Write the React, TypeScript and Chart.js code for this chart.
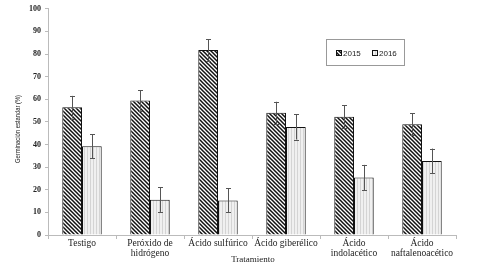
import React, { useEffect, useRef } from "react";
import { Chart, registerables } from "chart.js";

Chart.register(...registerables);

const categories: (string | string[])[] = [
  "Testigo",
  ["Peróxido de", "hidrógeno"],
  "Ácido sulfúrico",
  "Ácido giberélico",
  ["Ácido", "indolacético"],
  ["Ácido", "naftalenoacético"],
];
const values2015 = [56.5, 59.5, 81.8, 54.0, 52.3, 49.0];
const values2016 = [39.2, 15.6, 15.3, 47.8, 25.4, 32.7];
const err2015 = [5.0, 4.6, 4.7, 4.9, 5.0, 4.8];
const err2016 = [5.3, 5.4, 5.3, 5.6, 5.6, 5.5];
const seriesLabels = ["2015", "2016"];
const yTicks = { min: 0, max: 100, step: 10 };
const xTitle = "Tratamiento";
const yTitle = "Germinación estandar (%)";

const SERIF = "'Liberation Serif', 'Times New Roman', serif";

function makeHatch(): CanvasPattern | string {
  const c = document.createElement("canvas");
  c.width = 4;
  c.height = 4;
  const g = c.getContext("2d");
  if (!g) return "#333";
  g.fillStyle = "#ffffff";
  g.fillRect(0, 0, 4, 4);
  g.strokeStyle = "#111111";
  g.lineWidth = 1.5;
  g.beginPath();
  g.moveTo(-1, -1);
  g.lineTo(5, 5);
  g.moveTo(-1, 3);
  g.lineTo(1, 5);
  g.moveTo(3, -1);
  g.lineTo(5, 1);
  g.stroke();
  return g.createPattern(c, "repeat") || "#333";
}

function makeVert(): CanvasPattern | string {
  const c = document.createElement("canvas");
  c.width = 3;
  c.height = 3;
  const g = c.getContext("2d");
  if (!g) return "#eee";
  g.fillStyle = "#f0f0f0";
  g.fillRect(0, 0, 3, 3);
  g.fillStyle = "#d4d4d4";
  g.fillRect(0, 0, 1, 3);
  return g.createPattern(c, "repeat") || "#eee";
}

export default function App() {
  const ref = useRef<HTMLCanvasElement | null>(null);

  useEffect(() => {
    if (!ref.current) return;
    const hatch = makeHatch();
    const vert = makeVert();
    const errs = [err2015, err2016];

    const errorBars = {
      id: "errorBars",
      afterDatasetsDraw(chart: any) {
        const ctx = chart.ctx;
        const y = chart.scales.y;
        ctx.save();
        ctx.strokeStyle = "#555";
        ctx.lineWidth = 1;
        chart.data.datasets.forEach((ds: any, di: number) => {
          const meta = chart.getDatasetMeta(di);
          meta.data.forEach((bar: any, i: number) => {
            const v = ds.data[i];
            const e = errs[di][i];
            const x = Math.round(bar.x) + 0.5;
            const yt = y.getPixelForValue(v + e);
            const yb = y.getPixelForValue(v - e);
            ctx.beginPath();
            ctx.moveTo(x, yt);
            ctx.lineTo(x, yb);
            ctx.moveTo(x - 2.5, Math.round(yt) + 0.5);
            ctx.lineTo(x + 2.5, Math.round(yt) + 0.5);
            ctx.moveTo(x - 2.5, Math.round(yb) + 0.5);
            ctx.lineTo(x + 2.5, Math.round(yb) + 0.5);
            ctx.stroke();
          });
        });
        ctx.restore();
      },
    };

    const extras = {
      id: "extras",
      afterDraw(chart: any) {
        const ctx = chart.ctx;
        ctx.save();
        // legend box
        ctx.strokeStyle = "#999";
        ctx.lineWidth = 1;
        ctx.strokeRect(326.5, 39.5, 78, 26);
        const fills = [hatch, vert];
        const xs = [336, 372];
        ctx.font = "8px 'Liberation Sans', Arial, sans-serif";
        ctx.textBaseline = "middle";
        ctx.textAlign = "left";
        seriesLabels.forEach((lab, i) => {
          ctx.fillStyle = fills[i] as any;
          ctx.fillRect(xs[i], 50, 6, 6);
          ctx.strokeStyle = "#111";
          ctx.strokeRect(xs[i] + 0.5, 50.5, 5, 5);
          ctx.fillStyle = "#222";
          ctx.fillText(lab, xs[i] + 7, 53.5);
        });
        // x title
        ctx.fillStyle = "#222";
        ctx.textAlign = "center";
        ctx.font = `9px ${SERIF}`;
        const xs2 = chart.scales.x;
        ctx.fillText(xTitle, (xs2.left + xs2.right) / 2 + 1, 259.5);
        // y title
        ctx.translate(17.5, 129);
        ctx.rotate(-Math.PI / 2);
        ctx.font = "8px 'Liberation Sans', Arial, sans-serif";
        const w = ctx.measureText(yTitle).width;
        const sx = 68 / w;
        ctx.scale(sx, 1);
        ctx.fillText(yTitle, 0, 0);
        ctx.restore();
      },
    };

    const chart = new Chart(ref.current, {
      type: "bar",
      data: {
        labels: categories,
        datasets: [
          {
            label: seriesLabels[0],
            data: values2015,
            backgroundColor: hatch as any,
            borderColor: "#111",
            borderWidth: 1,
            barPercentage: 1,
            categoryPercentage: 0.58,
          },
          {
            label: seriesLabels[1],
            data: values2016,
            backgroundColor: vert as any,
            borderColor: "#111",
            borderWidth: 1,
            barPercentage: 1,
            categoryPercentage: 0.58,
          },
        ],
      },
      options: {
        animation: false,
        responsive: false,
        maintainAspectRatio: false,
        layout: { padding: { top: 7, right: 47, left: 0, bottom: 0 } },
        plugins: {
          legend: { display: false },
          tooltip: { enabled: false },
        },
        scales: {
          x: {
            grid: {
              drawOnChartArea: false,
              drawTicks: true,
              tickLength: 4,
              color: "#bbb",
            },
            border: { color: "#bbb" },
            ticks: {
              color: "#222",
              font: { family: SERIF, size: 9.5, lineHeight: 1.0 },
              padding: 0,
              maxRotation: 0,
              autoSkip: false,
            },
            title: { display: false },
            afterFit(s: any) {
              s.height = 37;
            },
          },
          y: {
            min: yTicks.min,
            max: yTicks.max,
            grid: {
              drawOnChartArea: false,
              drawTicks: true,
              tickLength: 3,
              color: "#bbb",
            },
            border: { color: "#bbb" },
            ticks: {
              stepSize: yTicks.step,
              color: "#222",
              padding: 4,
              font: { family: SERIF, size: 8, weight: "bold" },
            },
            title: { display: false },
            afterFit(s: any) {
              s.width = 48;
            },
          },
        },
      },
      plugins: [errorBars, extras],
    });
    return () => chart.destroy();
  }, []);

  return (
    <div style={{ position: "fixed", left: 0, top: 0, width: 503, height: 272, background: "#fff" }}>
      <canvas ref={ref} width={503} height={272} style={{ width: 503, height: 272 }} />
    </div>
  );
}
